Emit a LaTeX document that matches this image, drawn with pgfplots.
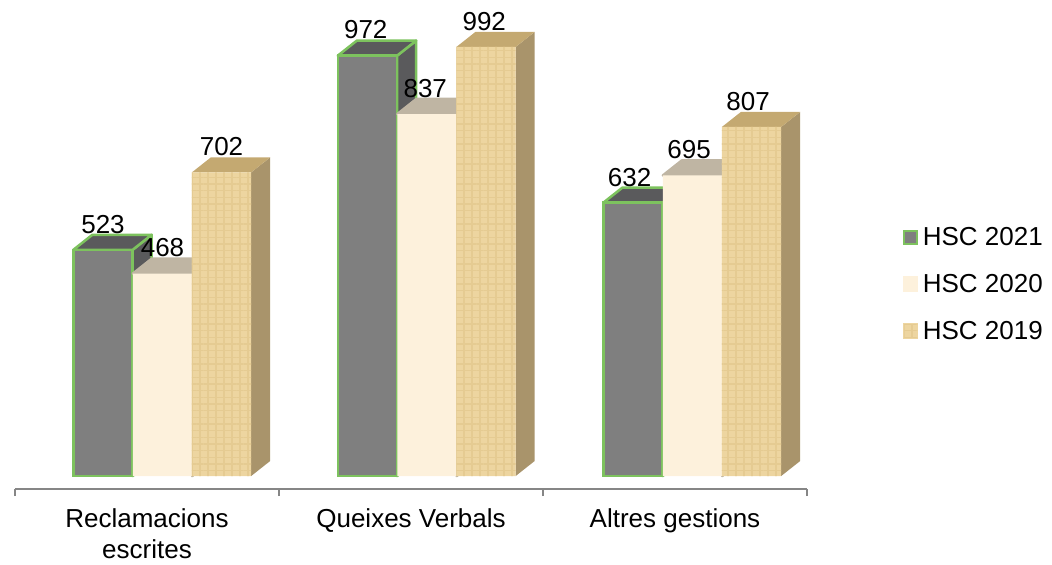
\documentclass[border=0pt]{standalone}
\usepackage{fontspec}
\setmainfont{Liberation Sans}
\usepackage{pgfplots}
\usepackage{pgfplotstable}
\pgfplotsset{compat=1.18}
\usetikzlibrary{patterns.meta}

\definecolor{grayfront}{HTML}{7F7F7F}
\definecolor{graytop}{HTML}{5A5A5C}
\definecolor{grayedge}{HTML}{7DC25E}
\definecolor{creamfront}{HTML}{FDF1DC}
\definecolor{creamtop}{HTML}{BFB5A3}
\definecolor{woodfront}{HTML}{EDD5A0}
\definecolor{woodtop}{HTML}{C4A971}
\definecolor{woodside}{HTML}{A9946B}
\definecolor{woodgrain}{HTML}{E5CB92}
\definecolor{axisgray}{HTML}{868686}

% x = category + offset of the bar
\pgfplotstableread{
x y
-0.1667 523
0.8352 972
1.8409 632
}\hscA
\pgfplotstableread{
x y
0.0587 468
1.0606 837
2.0663 695
}\hscB
\pgfplotstableread{
x y
0.2822 702
1.2841 992
2.2898 807
}\hscC

% top and right faces of one bar: x, value, top colour, side colour, edge
\newcommand{\faces}[5]{
  \addplot[forget plot, fill=#4, draw=#5, line width=1.9pt, line join=round] coordinates {
    ({#1+0.1123},0) ({#1+0.1843},34.7) ({#1+0.1843},{#2+34.7}) ({#1+0.1123},#2)} -- cycle;
  \addplot[forget plot, fill=#3, draw=#5, line width=1.9pt, line join=round] coordinates {
    ({#1-0.1123},#2) ({#1+0.1123},#2) ({#1+0.1843},{#2+34.7}) ({#1-0.0403},{#2+34.7})} -- cycle;
}

\pgfplotsset{
  frontbar/.style={ybar, bar width=44.5pt, bar shift=0pt, nodes near coords,
    nodes near coords style={anchor=base, yshift=12.5pt, xshift={-1.3pt*\coordindex}, font=\fontsize{19.5}{23}\selectfont, text=black}},
  swatch/.style 2 args={legend image code/.code={\path[fill=#1, draw=#2, line width=1.5pt] (0.7pt,-5pt) rectangle (10.6pt,5pt);}},
  grain/.style={postaction={pattern={Lines[angle=90,distance=6pt,line width=1.6pt]}, pattern color=woodgrain},
    postaction={pattern={Lines[angle=0,distance=5pt,line width=1.2pt]}, pattern color=woodgrain}}
}

\begin{document}
\begin{tikzpicture}
\path[use as bounding box] (0,0) rectangle (789pt,423pt);
\begin{axis}[
    at={(11.25pt,56.25pt)}, anchor=south west,
    scale only axis, width=594pt, height=366.75pt,
    xmin=-0.5, xmax=2.5, ymin=-30, ymax=1100.6,
    clip=false,
    axis x line=bottom, axis y line=none,
    axis line style={-, axisgray, line width=1.5pt},
    xtick={0,1,2},
    xticklabels={{Reclamacions\\escrites},{Queixes Verbals\\\mbox{}},{Altres gestions\\\mbox{}}},
    xticklabel style={anchor=base, yshift=-51.75pt, align=center, font=\fontsize{19.5}{23}\selectfont},
    major tick length=0pt,
    minor xtick={-0.5,0.5,1.5,2.5},
    minor tick length=5.25pt,
    tick align=outside,
    minor tick style={axisgray, line width=1.1pt},
    /pgf/number format/assume math mode=true,
    /pgf/number format/1000 sep={},
    legend style={at={(1.1212,0.419)}, anchor=west, draw=none, fill=none, inner sep=0pt,
      font=\fontsize{19.5}{23}\selectfont,
      row sep=20pt,
      nodes={inner sep=0pt, anchor=west}},
    legend cell align=left,
]
% 2021
\faces{-0.1667}{523}{graytop}{graytop}{grayedge}
\faces{0.8352}{972}{graytop}{graytop}{grayedge}
\faces{1.8409}{632}{graytop}{graytop}{grayedge}
\addplot[frontbar, swatch={grayfront}{grayedge}, fill=grayfront, draw=grayedge, line width=1.9pt] table {\hscA};
\addlegendentry{\,HSC 2021}
% 2020
\faces{0.0587}{468}{creamtop}{creamtop}{creamtop}
\faces{1.0606}{837}{creamtop}{creamtop}{creamtop}
\faces{2.0663}{695}{creamtop}{creamtop}{creamtop}
\addplot[frontbar, swatch={creamfront}{creamfront}, fill=creamfront, draw=none] table {\hscB};
\addlegendentry{\,HSC 2020}
% 2019
\faces{0.2822}{702}{woodtop}{woodside}{none}
\faces{1.2841}{992}{woodtop}{woodside}{none}
\faces{2.2898}{807}{woodtop}{woodside}{none}
\addplot[frontbar, swatch={woodfront}{woodfront}, fill=woodfront, draw=none, grain] table {\hscC};
\addlegendentry{\,HSC 2019}
\end{axis}
\end{tikzpicture}
\end{document}
